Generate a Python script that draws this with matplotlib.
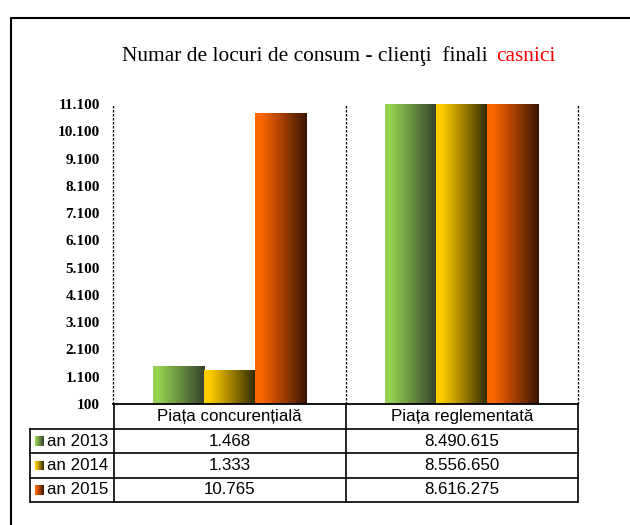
import matplotlib
matplotlib.use("Agg")
import matplotlib.pyplot as plt
import numpy as np
from matplotlib.colors import LinearSegmentedColormap
from matplotlib.lines import Line2D

# data
categories = ["Piața concurențială", "Piața reglementată"]
years = ["an 2013", "an 2014", "an 2015"]
concurential = [1468, 1333, 10765]
reglementat = [8490615, 8556650, 8616275]
yticks = list(range(100, 11101, 1000))

light = ["#92d050", "#ffcc00", "#ff6600"]
dark = ["#36402a", "#2e2800", "#3a1400"]

W, H = 630, 525
fig = plt.figure(figsize=(W / 100, H / 100), dpi=100)


def fx(x):
    return x / W


def fy(y):
    return 1 - y / H


ax = fig.add_axes([fx(113), fy(404), (578 - 113) / W, 300 / H])

vals = np.array([concurential, reglementat]).T  # rows = years
grad = np.linspace(0, 1, 256).reshape(1, -1)
cmaps = [LinearSegmentedColormap.from_list("g%d" % i, [(0, light[i]), (0.12, light[i]), (1, dark[i])])
         for i in range(3)]
bw = 0.22
for i in range(3):
    for j in range(2):
        x0 = j + (i - 1) * bw - bw / 2
        ax.imshow(grad, extent=[x0, x0 + bw, 100, vals[i][j]], cmap=cmaps[i],
                  aspect="auto", interpolation="bilinear", zorder=2)

ax.set_xlim(-0.5, 1.5)
ax.set_ylim(100, 11100)
ax.set_yticks(yticks)
ax.set_yticklabels([f"{t:,}".replace(",", ".") for t in yticks],
                   fontfamily="Liberation Serif", fontweight="bold", fontsize=11)
ax.tick_params(axis="y", length=0, pad=9.5)
ax.set_xticks([])
for s in ["left", "right", "top"]:
    ax.spines[s].set_visible(False)
ax.spines["bottom"].set_linewidth(1.3)
for xv in [-0.5, 0.5, 1.5]:
    ax.axvline(xv, color="black", lw=0.9, ls=(0, (2, 1.2)), zorder=1, clip_on=False)

# title
fig.text(fx(122), fy(61), "Numar de locuri de consum - clienţi  finali", fontfamily="Liberation Serif",
         fontsize=15.4, va="baseline", ha="left")
fig.text(fx(496), fy(61), "casnici", fontfamily="Liberation Serif", fontsize=15.4, color="red",
         va="baseline", ha="left")

# outer frame
fig.add_artist(Line2D([fx(11), fx(11), fx(630)], [fy(525), fy(18), fy(18)], color="black", lw=1.5))

# data table
lw = 1.2
for yv in [429, 453, 478, 502]:
    fig.add_artist(Line2D([fx(30), fx(578)], [fy(yv), fy(yv)], color="black", lw=lw))
for xv in [113.5, 346, 578]:
    fig.add_artist(Line2D([fx(xv), fx(xv)], [fy(404), fy(502)], color="black", lw=lw))
fig.add_artist(Line2D([fx(30), fx(30)], [fy(429), fy(502)], color="black", lw=lw))

col_x = [229.5, 462]
for j, c in enumerate(categories):
    fig.text(fx(col_x[j]), fy(417), c, fontfamily="Liberation Sans", fontsize=12.2,
             ha="center", va="center")
row_y = [441, 465.5, 490]
for i, yr in enumerate(years):
    fig.text(fx(47), fy(row_y[i]), yr, fontfamily="Liberation Sans", fontsize=12.2,
             ha="left", va="center")
    kax = fig.add_axes([fx(35), fy(row_y[i] + 5), 9 / W, 10 / H])
    kax.imshow(grad, cmap=cmaps[i], aspect="auto")
    kax.axis("off")
    for j in range(2):
        fig.text(fx(col_x[j]), fy(row_y[i]), f"{vals[i][j]:,}".replace(",", "."),
                 fontfamily="Liberation Sans", fontsize=12.2, ha="center", va="center")

fig.savefig("out.png", dpi=100)
